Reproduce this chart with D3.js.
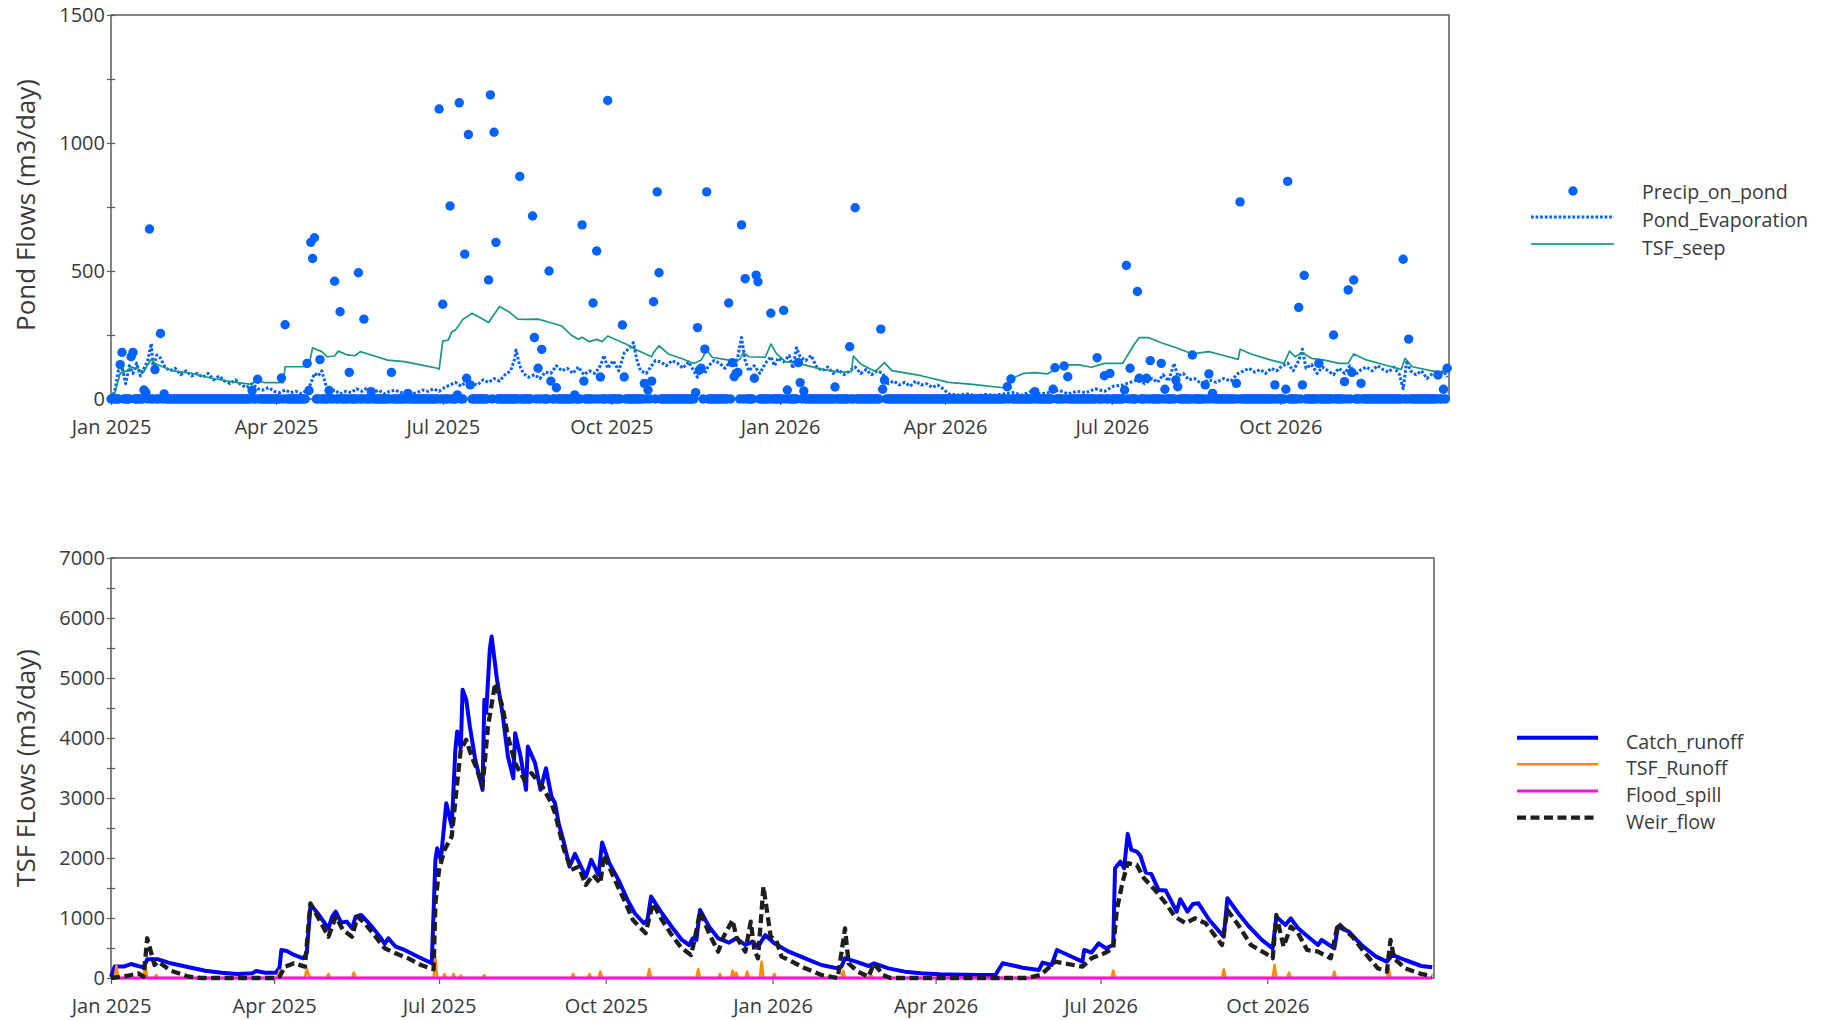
<!DOCTYPE html>
<html>
<head>
<meta charset="utf-8">
<script src="https://cdn.jsdelivr.net/npm/d3@7"></script>
<style>
  body { margin: 0; background: #fff; }
  svg { display: block; }
</style>
</head>
<body>
<svg id="chart" width="1834" height="1020"></svg>
<script>
// x values are days since 1 Jan 2025
const startDate = new Date(Date.UTC(2025, 0, 1));
const endDate = new Date(Date.UTC(2027, 0, 1));
const tickMonths = ["2025-01-01", "2025-04-01", "2025-07-01", "2025-10-01",
                    "2026-01-01", "2026-04-01", "2026-07-01", "2026-10-01"];

// top panel
const pondTicks = [0, 250, 500, 750, 1000, 1250, 1500];
const pondLabels = [0, 500, 1000, 1500];
const pondLegend = ["Precip_on_pond", "Pond_Evaporation", "TSF_seep"];

const precipDays = [5,6,11,12,18,19,21,24,27,29,77,80,93,95,107,108,109,110,111,114,
  119,122,125,130,135,138,142,153,162,179,181,185,189,190,193,194,195,196,206,207,
  209,210,223,230,231,233,235,239,240,243,253,257,258,263,265,267,271,279,280,291,
  293,295,296,298,299,319,320,321,322,324,325,337,339,340,341,342,344,346,351,352,
  353,360,367,369,375,376,378,395,403,406,420,421,422,489,491,504,514,515,520,522,
  538,542,545,553,554,556,560,561,565,567,573,575,581,582,590,597,599,601,614,616,
  635,641,642,648,650,651,659,667,673,675,677,678,682,705,708,724,727,729];
const precipValues = [134,182,165,182,35,25,664,115,256,20,33,77,82,290,139,33,612,549,630,154,
  33,460,341,104,493,312,29,104,22,1133,370,754,16,1157,566,81,1033,55,465,1188,
  1042,612,869,715,240,120,194,500,70,44,16,680,70,375,578,86,1166,289,86,61,
  35,70,380,809,493,25,279,113,120,195,809,375,142,87,100,104,680,470,81,484,
  458,335,346,35,142,64,31,47,204,747,273,38,74,48,78,29,38,122,129,87,
  161,91,100,35,522,120,420,81,81,150,139,38,74,48,172,55,98,22,61,770,
  55,38,850,358,55,483,139,250,68,426,104,465,61,546,234,94,38,120];
const precipLastDay = 729;

const evapDays = [0,2,4,6,8,10,12,14,16,18,20,22,23,25,27,29,32,35,38,41,44,47,50,53,56,59,62,65,68,71,
  74,77,80,83,86,89,92,95,98,101,104,107,109,111,113,115,117,119,122,125,128,131,134,137,140,143,146,149,152,155,
  158,161,164,167,170,173,176,179,182,185,188,191,194,197,200,203,206,209,212,215,218,220,221,223,225,228,231,234,237,240,
  243,246,249,252,255,258,261,264,267,269,271,274,277,280,283,285,287,289,292,294,297,300,303,306,309,312,315,318,320,322,
  324,326,329,332,335,338,341,344,346,348,351,354,357,360,362,364,367,370,372,374,376,379,382,385,388,391,394,397,400,403,
  406,409,412,415,418,421,424,427,430,433,436,439,442,445,448,451,454,457,462,467,472,477,482,487,492,497,502,507,512,517,
  522,527,532,537,542,547,552,556,560,564,568,571,574,577,580,582,585,588,591,595,599,603,607,611,615,618,621,624,627,630,
  633,636,639,642,645,648,650,652,655,658,661,664,667,670,673,676,679,682,685,688,691,694,697,700,703,705,707,709,712,715,
  718,721,724,727,729];
const evapValues = [0,30,110,126,60,130,100,140,90,120,150,217,120,172,160,130,110,120,95,110,90,100,85,100,75,90,70,60,75,55,
  45,60,40,35,45,30,25,35,25,30,20,35,60,100,90,110,60,25,35,20,30,25,40,30,45,25,35,20,30,35,
  25,30,20,25,35,30,40,30,45,55,65,50,70,60,55,75,65,80,70,95,110,150,191,130,100,85,95,80,105,100,
  130,110,120,100,125,95,110,100,130,170,120,150,110,180,200,220,150,110,100,120,150,145,130,150,140,120,145,110,85,120,
  100,130,150,140,120,150,130,240,150,110,130,100,140,165,130,160,145,170,120,200,165,150,170,125,110,125,100,115,95,110,
  125,100,115,95,110,100,60,70,55,65,50,70,55,60,45,55,40,20,15,20,12,18,15,20,25,15,30,20,25,35,
  20,30,25,40,30,50,55,65,75,60,80,65,95,70,139,90,100,75,80,60,75,65,80,70,100,110,120,105,115,100,
  120,110,130,140,110,150,195,120,135,100,125,110,95,120,100,130,95,115,125,110,130,115,105,125,95,40,150,110,95,110,
  80,100,90,110,85];

const seepDays = [0,2,5,9,11,15,18,20,22,24,33,44,55,69,77,79,84,94,95,106,108,110,115,118,122,124,129,133,136,142,
  151,160,169,178,179,181,184,186,188,192,197,202,206,212,217,222,226,233,240,246,251,255,257,261,265,268,271,278,281,286,
  295,296,299,304,311,318,322,325,328,337,343,345,348,357,360,363,368,375,388,398,404,405,409,417,422,426,442,457,470,487,
  493,498,504,511,515,520,528,535,542,552,558,561,566,573,582,590,599,606,615,616,622,633,640,643,646,650,655,662,670,675,
  678,684,695,704,706,710,720,728,729];
const seepValues = [9,22,100,111,126,116,107,133,155,139,111,100,81,64,57,74,64,64,126,126,133,200,185,165,168,187,172,169,185,172,
  152,146,133,120,116,226,230,263,270,311,335,315,299,361,341,312,311,312,298,285,250,233,241,224,233,224,246,224,215,194,
  165,181,208,176,159,139,152,191,163,152,155,181,165,163,215,178,146,139,116,104,107,168,137,107,142,111,91,65,57,44,
  85,100,103,98,116,133,133,124,139,139,211,240,240,220,198,176,185,172,155,194,176,152,139,187,165,181,159,152,139,139,
  176,155,133,116,159,126,111,103,120];

// bottom panel
const tsfTicks = [0,500,1000,1500,2000,2500,3000,3500,4000,4500,5000,5500,6000,6500,7000];
const tsfLabels = [0,1000,2000,3000,4000,5000,6000,7000];
const tsfLegend = ["Catch_runoff", "TSF_Runoff", "Flood_spill", "Weir_flow"];

const catchDays = [0,2,7,11,15,18,20,26,33,43,52,61,70,78,80,85,91,93,94,97,101,106,108,110,111,114,120,122,124,127,
  130,133,135,138,144,149,151,153,157,162,170,177,179,180,182,185,188,190,191,193,194,196,198,201,205,206,207,209,210,213,
  216,219,222,223,226,229,230,234,237,240,243,245,247,250,253,256,262,265,269,271,275,280,285,289,294,296,298,304,310,315,
  319,321,323,325,330,335,341,345,350,354,357,361,366,374,383,392,401,403,405,411,418,421,429,438,447,457,470,480,488,492,
  499,503,512,514,519,522,528,536,537,541,545,549,553,554,557,559,561,563,566,568,571,574,578,582,588,590,594,597,600,606,
  614,616,622,628,635,641,643,648,651,655,660,666,668,675,677,683,690,698,704,707,714,723,729];
const catchValues = [20,190,190,233,200,178,311,311,245,178,122,89,67,78,117,89,89,178,467,450,384,328,411,1190,1190,1079,828,1023,1106,923,
  940,828,1023,1051,856,662,567,662,523,467,345,245,1968,2163,1968,2913,2524,3803,4109,3831,4804,4637,4192,3636,3136,4637,4415,5471,5693,4971,
  4415,3692,3330,4081,3692,3136,3859,3581,3136,3497,3025,2913,2580,2246,1857,2068,1690,1968,1718,2257,1913,1635,1301,1079,912,967,1357,1079,828,634,
  550,662,634,1134,856,662,589,662,550,606,523,717,578,439,328,217,161,189,328,272,200,245,161,106,78,61,55,50,50,245,
  200,172,133,256,217,467,384,272,467,423,578,495,550,1829,1940,1829,2402,2135,2107,2035,1757,1735,1468,1457,1106,1312,1106,1234,1245,967,
  689,1329,1079,856,634,495,1023,884,995,828,701,550,634,495,856,773,550,356,272,384,300,200,178];

const runoffDays = [0,2,3,4,18,19,20,24,25,26,92,93,94,107,108,109,110,119,120,121,133,134,135,178,179,180,183,184,185,188,
  189,190,192,193,194,205,206,207,254,255,256,263,264,265,269,270,271,296,297,298,323,324,325,335,336,337,342,343,344,345,
  346,350,351,352,358,359,360,365,366,367,403,404,405,418,419,420,552,553,554,613,614,615,641,642,643,649,650,651,674,675,
  676,704,705,706,729];
const runoffValues = [0,0,200,0,0,217,0,0,50,0,0,122,0,0,160,60,0,0,67,0,0,89,0,0,328,0,0,67,0,0,
  67,0,0,40,0,0,50,0,0,67,0,0,67,0,0,106,0,0,145,0,0,145,0,0,67,0,0,122,0,89,
  0,0,106,0,0,272,0,0,67,0,0,122,0,0,78,0,0,122,0,0,145,0,0,217,0,0,89,0,0,106,
  0,0,161,0,0];

const spillDays = [0, 729];
const spillValues = [0, 0];

const weirDays = [0,8,11,15,18,20,22,24,26,33,43,50,92,93,96,101,107,110,114,120,124,128,133,136,140,146,151,157,164,171,
  178,179,181,184,188,191,193,196,199,202,205,208,212,216,219,223,228,232,238,243,245,250,254,258,262,266,270,272,278,284,
  288,295,299,304,310,315,320,322,325,330,335,338,343,345,350,353,355,357,360,364,367,370,374,383,392,401,405,407,412,418,
  421,426,430,505,513,521,536,541,548,553,555,558,561,566,570,576,582,587,593,598,604,613,616,622,629,637,641,643,647,651,
  655,660,666,673,677,685,692,699,704,706,708,714,723,729];
const weirValues = [0,33,50,78,22,662,439,217,272,122,22,0,0,22,189,245,189,1245,1023,689,1023,800,689,1023,912,689,495,411,328,217,
  145,1245,1801,2135,2357,3247,3803,3970,3692,3469,3191,4192,4915,4526,4025,3581,3303,3414,3191,2913,2746,2135,1801,1857,1551,1718,1579,2052,1635,1245,
  967,745,1245,967,689,495,384,634,1106,745,439,689,967,689,439,940,467,328,1523,689,634,356,300,161,50,0,828,245,106,22,
  245,50,0,0,50,272,189,328,411,495,1134,1579,1913,1885,1662,1468,1245,1023,912,995,912,550,1134,884,550,411,328,1051,523,856,
  745,467,439,328,912,689,411,161,106,634,328,161,67,33];

const textColor = "#3a3a3a";
const frameColor = "#5c5c5c";
const fontFamily = "'Open Sans', 'DejaVu Sans', sans-serif";

const svg = d3.select("#chart");
const toDate = d => d3.utcDay.offset(startDate, d);
const tickDates = tickMonths.map(s => new Date(s + "T00:00:00Z"));

// панелі
const xTop = d3.scaleUtc().domain([startDate, endDate]).range([111, 1449]);
const yTop = d3.scaleLinear().domain([0, 1500]).range([399, 15]);
const xBot = d3.scaleUtc().domain([startDate, endDate]).range([111, 1434]);
const yBot = d3.scaleLinear().domain([0, 7000]).range([978, 558]);

function drawAxes(x, y, yTicks, yLabels, title, titleY) {
    const [left, right] = x.range();
    const [bottom, top] = y.range();

    svg.append("rect")
        .attr("x", left)
        .attr("y", top)
        .attr("width", right - left)
        .attr("height", bottom - top)
        .attr("fill", "none")
        .attr("stroke", frameColor)
        .attr("stroke-width", 1.5);

    const yAxis = svg.append("g")
        .attr("transform", `translate(${left},0)`)
        .call(d3.axisLeft(y)
            .tickValues(yTicks)
            .tickSize(4)
            .tickFormat(d => yLabels.includes(d) ? String(d) : ""));
    yAxis.select(".domain").remove();
    yAxis.attr("font-family", fontFamily).attr("font-size", 20);
    yAxis.selectAll(".tick line")
        .attr("x1", -4)
        .attr("x2", 4)
        .attr("stroke", frameColor)
        .attr("stroke-width", 1.2);
    yAxis.selectAll(".tick text")
        .attr("x", -6)
        .attr("fill", textColor);

    const xAxis = svg.append("g")
        .attr("transform", `translate(0,${bottom})`)
        .call(d3.axisBottom(x)
            .tickValues(tickDates)
            .tickSize(6)
            .tickFormat(d3.utcFormat("%b %Y")));
    xAxis.select(".domain").remove();
    xAxis.attr("font-family", fontFamily).attr("font-size", 20);
    xAxis.selectAll(".tick line")
        .attr("stroke", frameColor)
        .attr("stroke-width", 1.2);
    xAxis.selectAll(".tick text")
        .attr("y", 21)
        .attr("fill", textColor);

    // підпис осі y
    svg.append("text")
        .attr("transform", `translate(26,${titleY}) rotate(-90)`)
        .attr("text-anchor", "middle")
        .attr("dy", "0.35em")
        .attr("font-family", fontFamily)
        .attr("font-size", 26)
        .attr("fill", textColor)
        .text(title);
}

function drawLine(x, y, days, values, color, width, dash) {
    const points = days.map((d, i) => [toDate(d), values[i]]);
    const line = d3.line().x(p => x(p[0])).y(p => y(p[1]));
    const path = svg.append("path")
        .datum(points)
        .attr("d", line)
        .attr("fill", "none")
        .attr("stroke", color)
        .attr("stroke-width", width)
        .attr("stroke-linejoin", "round");
    if (dash) path.attr("stroke-dasharray", dash);
}

function legendText(xPos, yPos, label) {
    svg.append("text")
        .attr("x", xPos)
        .attr("y", yPos)
        .attr("dy", "0.36em")
        .attr("font-family", fontFamily)
        .attr("font-size", 19.6)
        .attr("fill", textColor)
        .text(label);
}

// ---------- top chart ----------
drawAxes(xTop, yTop, pondTicks, pondLabels, "Pond Flows (m3/day)", 205);

const precipColor = "#0062ff";
const evapStyle = { color: "#0062ff", width: 3, dash: "2.7,1.9" };
const seepStyle = { color: "#1a9782", width: 1.7 };

drawLine(xTop, yTop, evapDays, evapValues, evapStyle.color, evapStyle.width, evapStyle.dash);
drawLine(xTop, yTop, seepDays, seepValues, seepStyle.color, seepStyle.width);

// every day has a point; dry days sit on zero
const rainByDay = new Map(precipDays.map((d, i) => [d, precipValues[i]]));
const precipPoints = d3.range(0, precipLastDay + 1).map(d => ({
    date: toDate(d),
    value: rainByDay.has(d) ? rainByDay.get(d) : 0
}));
svg.append("g")
    .selectAll("circle")
    .data(precipPoints.filter(p => p.value === 0).concat(precipPoints.filter(p => p.value > 0)))
    .join("circle")
    .attr("cx", p => xTop(p.date))
    .attr("cy", p => yTop(p.value))
    .attr("r", 4.7)
    .attr("fill", precipColor);

// legend top
svg.append("circle").attr("cx", 1573).attr("cy", 191).attr("r", 4.7).attr("fill", precipColor);
svg.append("line").attr("x1", 1531).attr("x2", 1614).attr("y1", 217).attr("y2", 217)
    .attr("stroke", evapStyle.color).attr("stroke-width", evapStyle.width).attr("stroke-dasharray", evapStyle.dash);
svg.append("line").attr("x1", 1531).attr("x2", 1614).attr("y1", 244).attr("y2", 244)
    .attr("stroke", "#3aa898").attr("stroke-width", 2);
const topLegendY = [192, 220, 247.5];
pondLegend.forEach((label, i) => legendText(1642, topLegendY[i], label));

// ---------- bottom chart ----------
drawAxes(xBot, yBot, tsfTicks, tsfLabels, "TSF FLows (m3/day)", 768);

const tsfStyles = [
    { color: "#0000ff", width: 4 },
    { color: "#ff8c00", width: 2.6 },
    { color: "#ff14e6", width: 2.8 },
    { color: "#1e1e1e", width: 4.3, dash: "9,4.5" }
];

drawLine(xBot, yBot, catchDays, catchValues, tsfStyles[0].color, tsfStyles[0].width);
drawLine(xBot, yBot, runoffDays, runoffValues, tsfStyles[1].color, tsfStyles[1].width);
drawLine(xBot, yBot, spillDays, spillValues, tsfStyles[2].color, tsfStyles[2].width);
drawLine(xBot, yBot, weirDays, weirValues, tsfStyles[3].color, tsfStyles[3].width, tsfStyles[3].dash);

// legend bottom
const botLineY = [737.7, 764.3, 791, 817.7];
tsfLegend.forEach((label, i) => {
    const s = tsfStyles[i];
    const l = svg.append("line")
        .attr("x1", 1517).attr("x2", i === 3 ? 1594 : 1598)
        .attr("y1", botLineY[i]).attr("y2", botLineY[i])
        .attr("stroke", s.color).attr("stroke-width", s.width);
    if (s.dash) l.attr("stroke-dasharray", s.dash);
    legendText(1626, botLineY[i] + 4, label);
});
</script>
</body>
</html>
